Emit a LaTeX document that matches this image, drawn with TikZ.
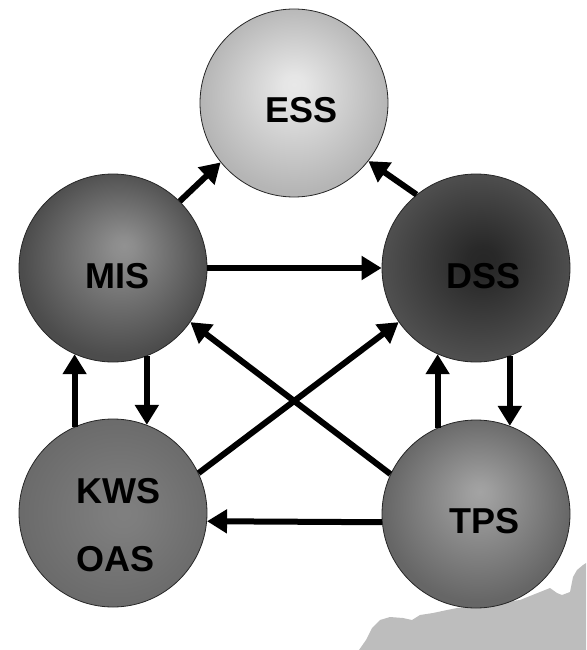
\documentclass[tikz,border=0pt]{standalone}
\usepackage{fontspec}
\newfontfamily\sysfont{Liberation Sans}
\usetikzlibrary{arrows.meta}
\pgfdeclareradialshading{essshade}{\pgfpoint{0bp}{5bp}}{rgb(0bp)=(0.91,0.91,0.91); rgb(3bp)=(0.90,0.90,0.90); rgb(25bp)=(0.71,0.71,0.71); rgb(35bp)=(0.70,0.70,0.70)}
\pgfdeclareradialshading{misshade}{\pgfpoint{3bp}{6bp}}{rgb(0bp)=(0.57,0.57,0.57); rgb(3bp)=(0.55,0.55,0.55); rgb(25bp)=(0.30,0.30,0.30); rgb(35bp)=(0.29,0.29,0.29)}
\pgfdeclareradialshading{dssshade}{\pgfpoint{2bp}{2bp}}{rgb(0bp)=(0.15,0.15,0.15); rgb(4bp)=(0.16,0.16,0.16); rgb(25bp)=(0.31,0.31,0.31); rgb(35bp)=(0.32,0.32,0.32)}
\pgfdeclareradialshading{kwsshade}{\pgfpoint{3bp}{0bp}}{rgb(0bp)=(0.50,0.50,0.50); rgb(5bp)=(0.49,0.49,0.49); rgb(25bp)=(0.42,0.42,0.42); rgb(35bp)=(0.41,0.41,0.41)}
\pgfdeclareradialshading{tpsshade}{\pgfpoint{1bp}{6bp}}{rgb(0bp)=(0.64,0.64,0.64); rgb(3bp)=(0.62,0.62,0.62); rgb(25bp)=(0.40,0.40,0.40); rgb(35bp)=(0.38,0.38,0.38)}
\definecolor{blobgray}{HTML}{BDBDBD}
\begin{document}
\begin{tikzpicture}[x=1pt,y=-1pt,
  sys/.style={circle,draw=black!85,line width=0.8pt,minimum size=188pt,inner sep=0pt},
  txt/.style={anchor=base west,inner sep=0pt,align=left,font=\sysfont\bfseries\fontsize{36}{68}\selectfont},
  flow/.style={line width=6pt,-{Triangle[length=20pt,width=23pt]}}]
  \useasboundingbox (0,0) rectangle (586,650);
  \fill[blobgray] (359,650) -- (366,640) -- (372,628) -- (380,620) -- (390,617) -- (403,618) -- (412,620) -- (420,615) -- (433,613) -- (447,610) -- (457,608) -- (520,600) -- (540,592) -- (550,588) -- (557,593) -- (562,595) -- (570,592) -- (573,577) -- (577,570) -- (583,565) -- (586,563) -- (586,650) -- cycle;
  \node[sys,shading=essshade] (ess) at (294,103) {};
  \node[sys,shading=misshade] (mis) at (113,268) {};
  \node[sys,shading=dssshade] (dss) at (476,268) {};
  \node[sys,shading=kwsshade] (kws) at (113,513) {};
  \node[sys,shading=tpsshade] (tps) at (476,514) {};
  \node[txt] (esslbl) at (265,123) {ESS};
  \node[txt] (mislbl) at (85,288) {MIS};
  \node[txt] (dsslbl) at (446,288) {DSS};
  \node[txt] (kwslbl) at (76,571) {KWS\\OAS};
  \node[txt] (tpslbl) at (449,533) {TPS};
  \draw[flow] (mis.45) -- (ess.219);
  \draw[flow] (dss.129) -- (ess.322);
  \draw[flow] (mis.east) -- (dss.west);
  \draw[flow] (kws.114) -- (mis.246);
  \draw[flow] (mis.291) -- (kws.69);
  \draw[flow] (tps.114) -- (dss.246);
  \draw[flow] (dss.291) -- (tps.69);
  \draw[flow] (kws.25) -- (dss.215);
  \draw[flow] (tps.155) -- (mis.325);
  \draw[flow] (tps.185) -- (kws.355);
\end{tikzpicture}
\end{document}
